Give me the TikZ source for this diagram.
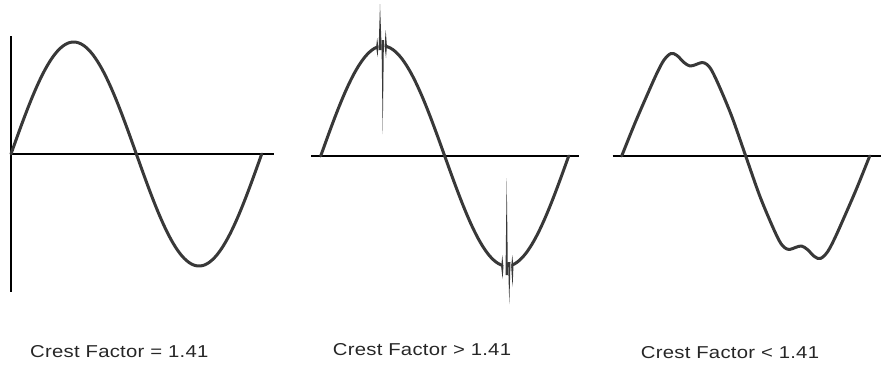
\documentclass[tikz,border=0pt]{standalone}
\usepackage{fontspec}
\setmainfont{Liberation Sans}
\begin{document}
\begin{tikzpicture}[x=1pt,y=-1pt,
  wave/.style={draw=wavegray,line width=3pt,line join=round,line cap=round},
  axis/.style={draw=black,line width=2pt},
  needle/.style={fill=wavegray,draw=none},
  caption/.style={anchor=base west,inner sep=0pt,text=capgray,
    font={\addfontfeatures{FakeStretch=1.18,LetterSpace=1.5}\fontsize{17.2}{20}\selectfont}}]
\definecolor{wavegray}{HTML}{383838}
\definecolor{capgray}{HTML}{262626}
\useasboundingbox (0,0) rectangle (883,364);

% ---------- panel 1 ----------
\draw[axis] (11,36) -- (11,292);
\draw[axis] (11,154) -- (274,154);
\draw[wave] plot[domain=0:360,samples=120] ({11+\x/360*250.7},{154-112*sin(\x)});

% ---------- panel 2 ----------
\draw[axis] (311,156) -- (579,156);
\draw[wave] plot[domain=0:81.7,samples=50] ({320.7+\x/360*248},{156-110*sin(\x)});
\draw[wave] plot[domain=94.8:263.2,samples=90] ({320.7+\x/360*248},{156-110*sin(\x)});
\draw[wave] plot[domain=278.4:360,samples=50] ({320.7+\x/360*248},{156-110*sin(\x)});
% peak spike
\fill[needle] (378.6,50) -- (380,4) -- (381.7,50) -- cycle;
\fill[needle] (381.5,40) -- (382.7,134) -- (383.9,40) -- cycle;
\fill[needle] (376.1,47) -- (377.2,38) -- (378.3,47) -- (377.6,57) -- cycle;
\fill[needle] (384.6,46) -- (385.7,30) -- (386.9,46) -- (386,58) -- cycle;
% trough spike
\fill[needle] (505.5,275) -- (506.7,178) -- (507.9,275) -- cycle;
\fill[needle] (508.1,262) -- (509.3,304) -- (510.5,262) -- cycle;
\fill[needle] (501.2,267) -- (502.3,255) -- (503.4,267) -- (502.6,279) -- cycle;
\fill[needle] (511.2,267) -- (512.3,255) -- (513.4,267) -- (512.6,287) -- cycle;

% ---------- panel 3 ----------
\draw[axis] (612.7,156) -- (881,156);
\draw[wave] plot[smooth,tension=0.55] coordinates {
  (621.7,156) (635,123) (648,93) (657,73) (664,60) (671,53.5) (677,55.5)
  (684,62.5) (690,66) (696,64.5) (702,62.5) (707,64.5) (712,71) (720,88)
  (732,117) (745.7,156) (759.4,195) (771.4,224) (779.4,241) (784.4,247.5)
  (789.4,249.5) (795.4,247.5) (801.4,246) (807.4,249.5) (814.4,256.5)
  (820.4,258.5) (827.4,252) (834.4,239) (843.4,219) (856.4,189) (869.7,156)};

% ---------- captions ----------
\node[caption] (c1) at (30,357.3) {Crest Factor = 1.41};
\node[caption] (c2) at (332.7,355) {Crest Factor > 1.41};
\node[caption] (c3) at (640.7,358) {Crest Factor < 1.41};
\end{tikzpicture}
\end{document}
